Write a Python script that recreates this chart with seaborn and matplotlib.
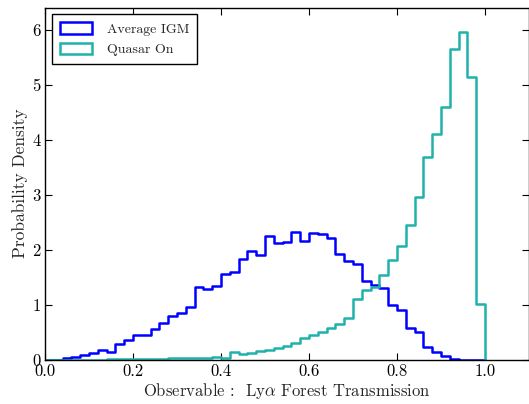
import numpy as np
import matplotlib
matplotlib.use("Agg")
import matplotlib.pyplot as plt
from matplotlib.patches import Patch
import seaborn as sns
import pandas as pd

# ---- data ----
bin_edges = [round(0.02 * i, 2) for i in range(51)]  # 0.00 ... 1.00 (50 bins)

average_igm = [0.0, 0.005, 0.04, 0.06, 0.09, 0.12, 0.18, 0.14, 0.29, 0.36,
               0.45, 0.46, 0.57, 0.68, 0.79, 0.85, 0.97, 1.33, 1.29, 1.34,
               1.56, 1.60, 1.83, 1.98, 1.90, 2.26, 2.12, 2.14, 2.33, 2.16,
               2.31, 2.29, 2.21, 1.93, 1.79, 1.74, 1.43, 1.36, 1.31, 1.00,
               0.91, 0.58, 0.50, 0.23, 0.15, 0.07, 0.01, 0.004, 0.003, 0.0]

quasar_on = [0.0, 0.0, 0.003, 0.003, 0.005, 0.005, 0.008, 0.01, 0.01, 0.012,
             0.015, 0.02, 0.02, 0.025, 0.03, 0.03, 0.035, 0.04, 0.04, 0.06,
             0.03, 0.14, 0.10, 0.12, 0.16, 0.19, 0.22, 0.25, 0.31, 0.40,
             0.46, 0.51, 0.59, 0.65, 0.77, 1.10, 1.27, 1.33, 1.54, 1.81,
             2.07, 2.45, 2.96, 3.68, 4.10, 4.59, 5.64, 5.96, 5.14, 1.01]

series_names = ["Average IGM", "Quasar On"]
series_colors = ["#0000ff", "#20b2aa"]
x_ticks = [0.0, 0.2, 0.4, 0.6, 0.8, 1.0]
y_ticks = [0, 1, 2, 3, 4, 5, 6]

edges_arr = np.array(bin_edges)
centers = (edges_arr[:-1] + edges_arr[1:]) / 2

sns.set_style("ticks")
plt.rcParams["font.family"] = ["cmr10", "DejaVu Serif"]
plt.rcParams["mathtext.fontset"] = "cm"
plt.rcParams["axes.formatter.use_mathtext"] = True

fig = plt.figure(figsize=(5.29, 4.04), dpi=100)
ax = fig.add_axes([45 / 529, 44 / 404, 1 - 45 / 529, (360 - 7.5) / 404])

for name, vals, col in zip(series_names, [average_igm, quasar_on], series_colors):
    df = pd.DataFrame({"x": centers, "w": np.array(vals, dtype=float)})
    sns.histplot(data=df, x="x", weights="w", bins=bin_edges, stat="count",
                 element="step", fill=False, color=col, linewidth=1.8, ax=ax)
    # close the step outline down to the baseline at the last edge (as matplotlib's step hist)
    line = ax.lines[-1]
    xd = np.append(line.get_xdata(), bin_edges[-1])
    yd = np.append(line.get_ydata(), 0.0)
    line.set_data(xd, yd)

ax.set_xlim(0.0, 1.1)
ax.set_ylim(0, 6.4)
ax.set_xticks(x_ticks)
ax.set_xticklabels([f"{t:.1f}" for t in x_ticks])
ax.set_yticks(y_ticks)
ax.set_yticklabels([str(t) for t in y_ticks])
ax.tick_params(direction="in", top=True, right=True, length=5, width=0.8,
               labelsize=12, pad=2, colors="black")
ax.tick_params(axis="x", pad=3)
ax.tick_params(axis="y", pad=3)
for lbl in ax.get_yticklabels():
    lbl.set_verticalalignment("center_baseline")
for s in ax.spines.values():
    s.set_color("black")
    s.set_linewidth(1.0)

ax.set_xlabel(r"Observable :  Ly$\alpha$ Forest Transmission", fontsize=12, labelpad=1)
ax.set_ylabel("Probability Density", fontsize=12.5, labelpad=3)

handles = [Patch(facecolor="none", edgecolor=c, linewidth=1.8, label=n)
           for n, c in zip(series_names, series_colors)]
leg = ax.legend(handles=handles, loc="upper left", fontsize=10, frameon=True,
                fancybox=False, edgecolor="black", framealpha=1,
                borderaxespad=0.5, handlelength=2.3, handleheight=0.9,
                handletextpad=1.1, borderpad=0.55, labelspacing=0.5)
leg.get_frame().set_linewidth(1.0)

fig.savefig("out.png", dpi=100)
